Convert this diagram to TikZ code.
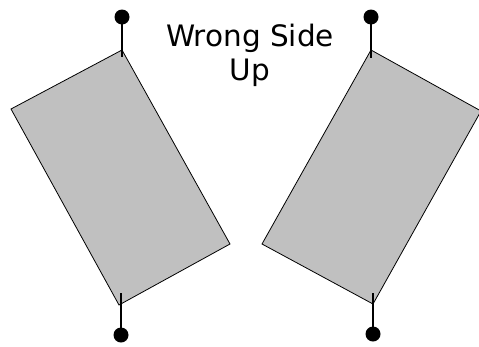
\documentclass[tikz,border=0pt]{standalone}
\usepackage{fontspec}
\setmainfont{DejaVu Sans}
\definecolor{plate}{HTML}{C0C0C0}
\begin{document}
\begin{tikzpicture}[x=1pt,y=-1pt,
  plateshape/.style={fill=plate,draw=black,line width=0.8pt,line join=miter},
  pin/.style={circle,fill=black,inner sep=0pt,minimum size=15pt},
  stem/.style={draw=black,line width=1.1pt}]
\useasboundingbox (0,0) rectangle (479,346);
% left plate
\draw[plateshape] (122,50) -- (11,109) -- (119,305) -- (230,244) -- cycle;
% right plate
\draw[plateshape] (371,50) -- (262,244) -- (373,304) -- (481,111) -- cycle;
% pins
\node[pin] (lt) at (122,17) {};
\node[pin] (lb) at (121,335) {};
\node[pin] (rt) at (371,17) {};
\node[pin] (rb) at (373,334) {};
\coordinate (ltend) at (122,57);
\coordinate (lbend) at (121,293);
\coordinate (rtend) at (371,58);
\coordinate (rbend) at (373,293);
\draw[stem] (lt.center) -- (ltend);
\draw[stem] (lb.center) -- (lbend);
\draw[stem] (rt.center) -- (rtend);
\draw[stem] (rb.center) -- (rbend);
\node[align=center,font=\fontsize{29.5}{34}\selectfont,inner sep=0pt,anchor=north] (title) at (250,24) {Wrong Side\\Up};
\end{tikzpicture}
\end{document}
